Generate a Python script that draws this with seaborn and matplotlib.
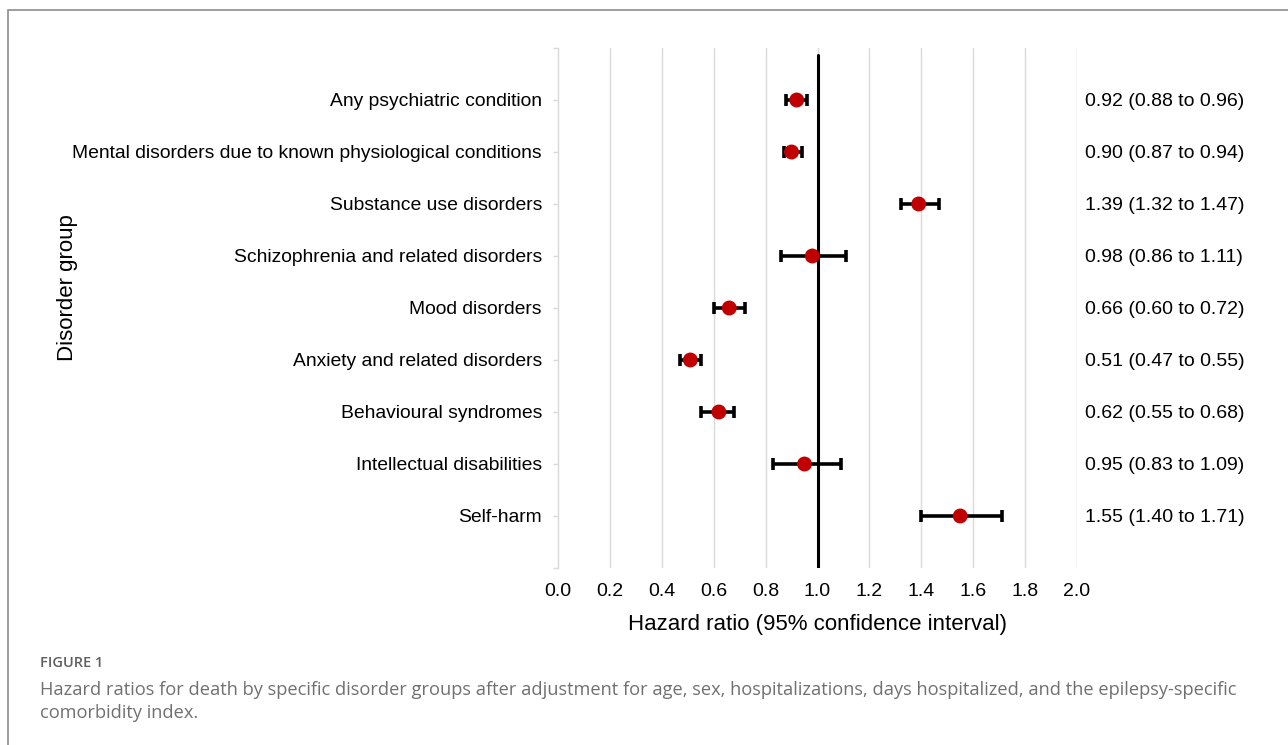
import seaborn as sns
import matplotlib.pyplot as plt
from matplotlib.patches import Rectangle
import pandas as pd
import numpy as np

groups = ['Any psychiatric condition',
          'Mental disorders due to known physiological conditions',
          'Substance use disorders',
          'Schizophrenia and related disorders',
          'Mood disorders',
          'Anxiety and related disorders',
          'Behavioural syndromes',
          'Intellectual disabilities',
          'Self-harm']
hr = [0.92, 0.90, 1.39, 0.98, 0.66, 0.51, 0.62, 0.95, 1.55]
ci_low = [0.88, 0.87, 1.32, 0.86, 0.60, 0.47, 0.55, 0.83, 1.40]
ci_high = [0.96, 0.94, 1.47, 1.11, 0.72, 0.55, 0.68, 1.09, 1.71]
x_ticks = [0.0, 0.2, 0.4, 0.6, 0.8, 1.0, 1.2, 1.4, 1.6, 1.8, 2.0]

df = pd.DataFrame({'group': groups, 'hr': hr, 'lo': ci_low, 'hi': ci_high})
df['pos'] = np.arange(len(df))

sns.set_theme(style='white')
plt.rcParams['font.family'] = ['Liberation Sans', 'DejaVu Sans']
plt.rcParams['text.color'] = 'black'
plt.rcParams['axes.labelcolor'] = 'black'
plt.rcParams['xtick.color'] = 'black'
plt.rcParams['ytick.color'] = 'black'

fig = plt.figure(figsize=(12.88, 7.45), dpi=100)
ax = fig.add_axes([558 / 1288, 1 - 568 / 745, (1077 - 558) / 1288, 520 / 745])

# light vertical gridlines
for xv in x_ticks[1:]:
    ax.axvline(xv, color='#d9d9d9', lw=1, zorder=0)
ax.axvline(1.0, ymax=(568 - 55) / 520, color='black', lw=2.2, zorder=1)

ax.errorbar(df['hr'], df['pos'], xerr=[df['hr'] - df['lo'], df['hi'] - df['hr']],
            fmt='none', ecolor='black', elinewidth=2.6, capsize=4.5, capthick=2.6, zorder=2)
sns.scatterplot(data=df, x='hr', y='pos', ax=ax, color='#c00000', s=115,
                edgecolor='none', zorder=3, legend=False)

ax.set_xlim(0, 2.0)
ax.set_ylim(len(df), -1)
ax.set_xticks(x_ticks)
ax.set_xticklabels([f'{v:.1f}' for v in x_ticks], fontsize=14)
ax.set_yticks(np.arange(-1, len(df) + 1))
ax.set_yticklabels([''] + groups + [''], fontsize=13.85)
ax.tick_params(axis='y', length=3.6, width=1, color='#d9d9d9', labelcolor='black', pad=8, left=True)
ax.tick_params(axis='x', length=0, pad=11, labelcolor='black')
for side in ['top', 'right', 'bottom']:
    ax.spines[side].set_visible(False)
ax.spines['left'].set_color('#d9d9d9')
ax.spines['left'].set_linewidth(1)

ax.set_xlabel('Hazard ratio (95% confidence interval)', fontsize=16, labelpad=10)
ax.set_ylabel('Disorder group', fontsize=16, labelpad=0)
ax.yaxis.set_label_coords(-0.925, 0.54)

for _, row in df.iterrows():
    ax.annotate(f"{row['hr']:.2f} ({row['lo']:.2f} to {row['hi']:.2f})",
                xy=(1.015, row['pos']), xycoords=('axes fraction', 'data'),
                xytext=(0, -0.8), textcoords='offset points',
                va='center', ha='left', fontsize=14, color='black')

# outer frame
fig.patches.append(Rectangle((8 / 1288, -0.01), 1.1, 1 - 10 / 745 + 0.01,
                             transform=fig.transFigure, fill=False,
                             edgecolor='#8c8c8c', lw=1.2))

fig.text(40 / 1288, 1 - 663 / 745, 'FIGURE 1', fontsize=10.5, color='#5f5f5f',
         family=['Open Sans', 'DejaVu Sans'], va='center', weight='semibold')
fig.text(40 / 1288, 1 - 690 / 745,
         'Hazard ratios for death by specific disorder groups after adjustment for age, sex, '
         'hospitalizations, days hospitalized, and the epilepsy-specific',
         fontsize=13.15, color='#707070', family=['Open Sans', 'DejaVu Sans'], va='center')
fig.text(40 / 1288, 1 - 713 / 745, 'comorbidity index.',
         fontsize=13.15, color='#707070', family=['Open Sans', 'DejaVu Sans'], va='center')

fig.savefig('out.png', dpi=100)
